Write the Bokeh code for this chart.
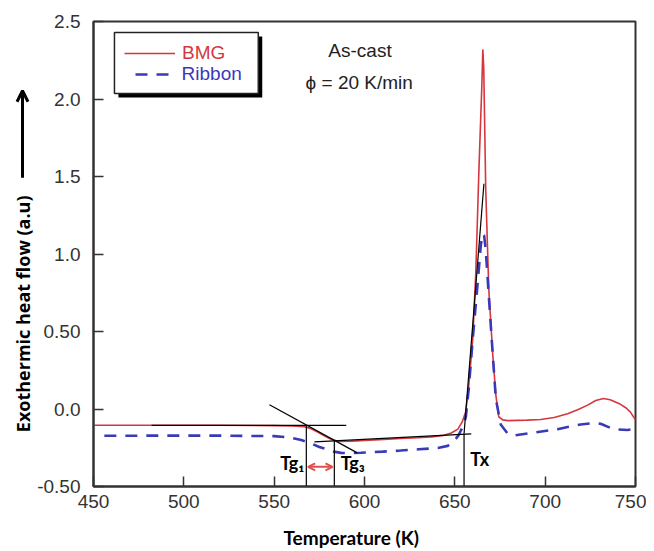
from bokeh.plotting import figure
from bokeh.layouts import row
from bokeh.models import (FixedTicker, Label, Arrow, OpenHead, BoxAnnotation,
                          Legend, LegendItem, Title, Range1d)
from bokeh.embed import file_html
from bokeh.resources import INLINE

# ---------------- data ----------------
bmg_temp = [450, 480, 520, 550, 560, 566.6, 570, 574.3, 578, 581.5, 585.9, 592.5,
            600, 610.8, 620, 629.6, 637, 643.9, 648, 651.7, 654, 656, 657.7,
            659.9, 661.6, 663.3, 664.9, 665.5, 666.0, 667.1, 668.8, 671.0, 672.7,
            674.3, 676.5, 679.3, 690, 697.5, 705, 712.4, 718, 723.5, 728, 732.3,
            736, 741.7, 745, 747.2, 750]
bmg_heat = [-0.105, -0.105, -0.105, -0.107, -0.11, -0.115, -0.125, -0.15, -0.175,
            -0.195, -0.21, -0.207, -0.203, -0.196, -0.19, -0.185, -0.18, -0.17,
            -0.155, -0.13, -0.085, -0.02, 0.15, 0.45, 0.88, 1.53, 2.07, 2.32, 2.2,
            1.42, 0.77, 0.35, 0.09, -0.05, -0.07, -0.075, -0.072, -0.068, -0.055,
            -0.03, -0.005, 0.025, 0.055, 0.068, 0.06, 0.03, 0.005, -0.02, -0.07]

ribbon_temp = [456, 480, 520, 550, 559.4, 565, 570.4, 575, 579.8, 583, 587, 592,
               598, 610, 620, 630, 640.6, 646, 649.4, 652, 653.3, 655, 656.1,
               657.7, 659.9, 662.7, 664.4, 665.5, 666.2, 667.1, 668.8, 671.0,
               672.7, 675.4, 679.3, 683, 690.3, 698, 706.9, 713, 719.6, 725,
               730.7, 737.8, 745.6, 748.3]
ribbon_heat = [-0.173, -0.172, -0.172, -0.175, -0.185, -0.2, -0.222, -0.245,
               -0.262, -0.275, -0.283, -0.285, -0.282, -0.275, -0.268, -0.26,
               -0.252, -0.238, -0.21, -0.17, -0.14, -0.10, -0.05, 0.13, 0.45,
               0.82, 1.06, 1.13, 1.12, 1.03, 0.73, 0.35, 0.065, -0.10, -0.16,
               -0.17, -0.158, -0.145, -0.13, -0.115, -0.10, -0.093, -0.095,
               -0.13, -0.135, -0.13]

x_ticks = [450, 500, 550, 600, 650, 700, 750]
y_ticks = [-0.5, 0, 0.5, 1, 1.5, 2, 2.5]
y_tick_labels = ["-0.50", "0.0", "0.50", "1.0", "1.5", "2.0", "2.5"]

# construction (onset) lines: start/end points in data units
tg1, tg3, tx = 567.8, 583.3, 655.1
seg_x0 = [482.2, 547.4, 572.3, tg1, tg3, tx, tx]
seg_y0 = [-0.105, 0.027, -0.212, -0.5, -0.5, -0.5, -0.16]
seg_x1 = [589.9, 596.0, 659.1, tg1, tg3, tx, 666.1]
seg_y1 = [-0.105, -0.283, -0.160, -0.105, -0.2, -0.16, 1.453]

RED = "#d6363e"
BLUE = "#3a3ab8"
AXIS = "#333333"
TICK_FONT = "Liberation Sans"
TITLE_FONT = "Lato"

y_range = Range1d(-0.5, 2.5)

# ---------------- narrow strip holding the y title and its arrow ----------------
side = figure(width=34, height=551, x_range=(0, 34), y_range=y_range,
              output_backend="svg", toolbar_location=None, min_border=0,
              x_axis_location=None, y_axis_location=None)
side.grid.visible = False
side.outline_line_color = None
side.border_fill_color = "white"
side.add_layout(Label(x=22.5, y=0.614, text="Exothermic heat flow (a.u)",
                      angle=90, angle_units="deg", text_align="center",
                      text_baseline="middle", text_font="Open Sans",
                      text_font_size="18px", text_font_style="bold",
                      text_color="black"))
side.add_layout(Arrow(x_start=22, y_start=1.492, x_end=22, y_end=2.053,
                      end=OpenHead(size=11, line_width=3, line_color="black"),
                      line_width=3, line_color="black"))

# ---------------- main chart ----------------
p = figure(width=612, height=551, x_range=(450, 750), y_range=y_range,
           output_backend="svg", toolbar_location=None,
           min_border_left=58, min_border_right=11, min_border_top=21,
           min_border_bottom=65)
p.xgrid.visible = False
p.ygrid.visible = False
p.outline_line_color = AXIS
p.outline_line_width = 2
p.outline_line_alpha = 1
p.background_fill_color = "white"
p.border_fill_color = "white"

p.xaxis.ticker = FixedTicker(ticks=x_ticks)
p.yaxis.ticker = FixedTicker(ticks=y_ticks)
p.yaxis.major_label_overrides = dict(zip(y_ticks, y_tick_labels))
for ax in (p.xaxis, p.yaxis):
    ax.major_tick_in = 10
    ax.major_tick_out = 0
    ax.minor_tick_line_color = None
    ax.axis_line_color = AXIS
    ax.axis_line_width = 2
    ax.major_tick_line_color = AXIS
    ax.major_tick_line_width = 1.5
    ax.major_label_text_font = TICK_FONT
    ax.major_label_text_font_size = "19px"
    ax.major_label_text_color = "#333333"
p.yaxis.major_label_standoff = 13
p.xaxis.major_label_standoff = 8

r_bmg = p.line(bmg_temp, bmg_heat, line_color=RED, line_width=1.6)
r_rib = p.line(ribbon_temp, ribbon_heat, line_color=BLUE, line_width=2.6,
               line_dash="12 9")

p.segment(x0=seg_x0, y0=seg_y0, x1=seg_x1, y1=seg_y1, line_color="black",
          line_width=1.2)

# double arrow between Tg1 and Tg3
ARROW_RED = "#e0504a"
p.add_layout(Arrow(x_start=tg1 + 1.0, y_start=-0.373, x_end=tg3 - 1.0, y_end=-0.373,
                   start=OpenHead(size=7, line_color=ARROW_RED, line_width=2),
                   end=OpenHead(size=7, line_color=ARROW_RED, line_width=2),
                   line_color=ARROW_RED, line_width=2))

for txt, x, align in (("Tg\u2081", tg1 - 1.1, "right"), ("Tg\u2083", tg3 + 3.5, "left")):
    p.add_layout(Label(x=x, y=-0.35, text=txt, text_align=align,
                       text_baseline="middle", text_font=TITLE_FONT,
                       text_font_size="18px", text_font_style="bold",
                       text_color="black"))
p.add_layout(Label(x=tx + 3.5, y=-0.32, text="Tx", text_align="left",
                   text_baseline="middle", text_font=TITLE_FONT,
                   text_font_size="18px", text_font_style="bold",
                   text_color="black"))

# annotation texts
p.add_layout(Label(x=597.5, y=2.311, text="As-cast", text_align="center",
                   text_baseline="middle", text_font=TICK_FONT,
                   text_font_size="19px", text_color="#222222"))
p.add_layout(Label(x=597.1, y=2.106, text="\u03d5 = 20 K/min", text_align="center",
                   text_baseline="middle", text_font=TICK_FONT,
                   text_font_size="19px", text_color="#222222"))

# legend frame with drop shadow
p.add_layout(BoxAnnotation(left=463.8, right=543.4, top=2.403, bottom=2.009,
                           fill_color="black", fill_alpha=1, line_color=None))
p.add_layout(BoxAnnotation(left=461.6, right=541.2, top=2.429, bottom=2.035,
                           fill_color="white", fill_alpha=1, line_color="#222222",
                           line_width=1.5, line_alpha=1))

leg_common = dict(padding=0, margin=0, border_line_color=None,
                  background_fill_alpha=0, glyph_height=20, label_height=20,
                  label_text_font=TICK_FONT, label_text_font_size="19px")
leg1 = Legend(items=[LegendItem(label="BMG", renderers=[r_bmg])],
              location=(31, 422.5), glyph_width=51, label_standoff=7,
              label_text_color=RED, **leg_common)
leg2 = Legend(items=[LegendItem(label="Ribbon", renderers=[r_rib])],
              location=(41.6, 401.5), glyph_width=37, label_standoff=10,
              label_text_color=BLUE, **leg_common)
p.add_layout(leg1)
p.add_layout(leg2)

# small blank spacer panel, then the x axis title (slightly left of centre)
p.add_layout(Title(text=" ", text_font_size="1px", standoff=10), "below")
p.add_layout(Title(text="Temperature (K)", align="left", offset=190,
                   vertical_align="bottom", standoff=1,
                   text_font=TITLE_FONT, text_font_size="19px",
                   text_font_style="bold", text_color="black"), "below")

layout = row(side, p)
open("out.html", "w").write(file_html(layout, INLINE))
